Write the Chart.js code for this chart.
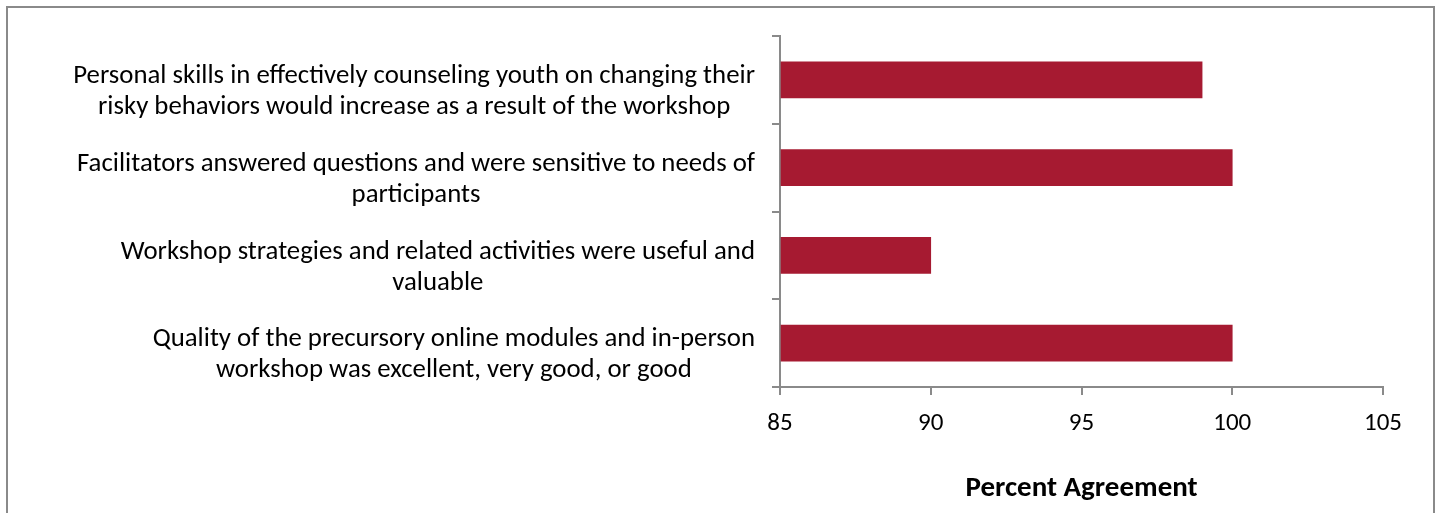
<!DOCTYPE html>
<html>
<head>
<meta charset="utf-8">
<script src="https://cdn.jsdelivr.net/npm/chart.js@4"></script>
<style>
    html, body { margin: 0; padding: 0; width: 1440px; height: 513px; overflow: hidden; background: #fff; }
    #frame { position: absolute; left: 6px; top: 6px; width: 1425px; height: 540px; border: 2px solid #8a8a8a; }
    #box { position: absolute; left: 0; top: 0; width: 1440px; height: 513px; }
</style>
</head>
<body>
<div id="frame"></div>
<div id="box"><canvas id="grafico"></canvas></div>
<script>
// DADOS --------------------------
const categorias = [
    ["Personal skills in effectively counseling youth on changing their", "risky behaviors would increase as a result of the workshop"],
    ["Facilitators answered questions and were sensitive to needs of", "participants"],
    ["Workshop strategies and related activities were useful and", "valuable"],
    ["Quality of the precursory online modules and in-person", "workshop was excellent, very good, or good"]
];
const concordancia = [99, 100, 90, 100];
const eixoX = { min: 85, max: 105, passo: 5 };

const FONTE = "Carlito, Calibri, 'Liberation Sans', sans-serif";
const COR_BARRA = "#A61A31";
const COR_EIXO = "#8a8a8a";

// desenha os rotulos das categorias: bloco alinhado a direita, linhas centralizadas
const rotulosPlugin = {
    id: "rotulos",
    afterDraw(chart) {
        const ctx = chart.ctx;
        const y = chart.scales.y;
        ctx.save();
        ctx.font = "26.8px " + FONTE;
        ctx.fillStyle = "#000";
        ctx.textBaseline = "middle";
        ctx.textAlign = "center";
        const direita = 755, altLinha = 31, desloc = 12;
        categorias.forEach((linhas, i) => {
            const yc = y.getPixelForValue(i) + desloc;
            const largura = Math.max(...linhas.map(l => ctx.measureText(l).width));
            const xc = direita - largura / 2;
            linhas.forEach((l, j) => {
                ctx.fillText(l, xc, yc + (j - (linhas.length - 1) / 2) * altLinha);
            });
        });
        ctx.restore();
    }
};

const config = {
    type: "bar",
    data: {
        labels: categorias,
        datasets: [{
            label: "Percent Agreement",
            data: concordancia,
            base: eixoX.min,
            backgroundColor: COR_BARRA,
            borderWidth: 0,
            barThickness: 36
        }]
    },
    options: {
        indexAxis: "y",
        responsive: true,
        maintainAspectRatio: false,
        animation: false,
        layout: { padding: { left: 0, right: 57, top: 36, bottom: 0 } },
        plugins: { legend: { display: false }, tooltip: { enabled: false } },
        scales: {
            x: {
                min: eixoX.min,
                max: eixoX.max,
                ticks: { stepSize: eixoX.passo, padding: 14, color: "#000", font: { family: FONTE, size: 25 } },
                grid: { drawOnChartArea: false, drawTicks: true, tickLength: 8, color: COR_EIXO, lineWidth: 2 },
                border: { color: COR_EIXO, width: 2 },
                title: { display: true, text: "Percent Agreement", color: "#000", font: { family: FONTE, size: 29, weight: "bold" }, padding: { top: 0, bottom: 7 } },
                afterFit: (scale) => { scale.height = 126; }
            },
            y: {
                ticks: { display: false },
                grid: { drawOnChartArea: false, offset: true, tickLength: 8, color: COR_EIXO, lineWidth: 2 },
                border: { color: COR_EIXO, width: 2 },
                afterFit: (scale) => { scale.width = 780; }
            }
        }
    },
    plugins: [rotulosPlugin]
};

document.addEventListener("DOMContentLoaded", () => {
    const ctx = document.getElementById("grafico").getContext("2d");
    new Chart(ctx, config);
});
</script>
</body>
</html>
